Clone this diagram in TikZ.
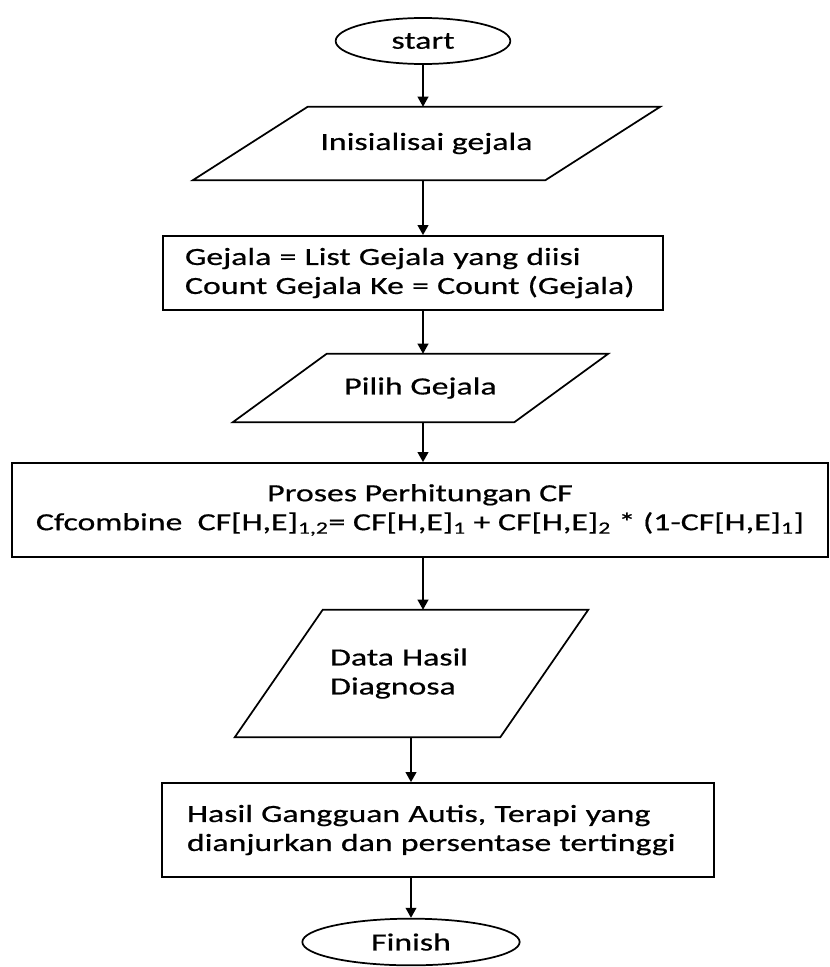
\documentclass[tikz,border=0pt]{standalone}
\usepackage{fontspec}
\setmainfont{Carlito}[FakeStretch=1.37,FakeBold=0.6]
\usetikzlibrary{shapes.geometric,arrows.meta,calc}
\begin{document}
\begin{tikzpicture}[x=0.75pt,y=-0.75pt,
  every node/.style={font=\fontsize{18.5}{21.75}\selectfont, text=black},
  shapeline/.style={draw=black, line width=1.3pt},
  term/.style={ellipse, shapeline, inner sep=0pt},
  procbox/.style={rectangle, shapeline, inner ysep=0pt},
  iobox/.style={rectangle, inner sep=0pt},
  arr/.style={draw=black, line width=1.3pt, -{Triangle[width=8pt,length=7.5pt]}}]
\useasboundingbox (0,0) rectangle (830,967);

\node[term, minimum width=131pt, minimum height=34.5pt] (start) at (423,41) {start};

\node[iobox, minimum width=264pt, minimum height=54.75pt] (ini) at (426.5,143.5) {Inisialisai gejala};
\draw[shapeline] ([xshift=-43.125pt]ini.south west) -- ([xshift=-43.125pt]ini.south east) -- ([xshift=43.125pt]ini.north east) -- ([xshift=43.125pt]ini.north west) -- cycle;

\node[procbox, minimum width=375pt, minimum height=55.5pt, inner xsep=16.5pt, text width=342pt, align=left] (gej) at (413,273) {Gejala = List Gejala yang diisi\\Count Gejala Ke = Count (Gejala)};

\node[iobox, minimum width=210.75pt, minimum height=51pt] (pil) at (420.5,388) {Pilih Gejala};
\draw[shapeline] ([xshift=-35.25pt]pil.south west) -- ([xshift=-35.25pt]pil.south east) -- ([xshift=35.25pt]pil.north east) -- ([xshift=35.25pt]pil.north west) -- cycle;

\node[procbox, minimum width=612pt, minimum height=70.5pt, inner xsep=2pt, align=center] (pro) at (420,510) {Proses Perhitungan CF\\Cfcombine\ \ CF[H,E]\textsubscript{1,2}= CF[H,E]\textsubscript{1} + CF[H,E]\textsubscript{2} * (1-CF[H,E]\textsubscript{1}]};

\node[iobox, minimum width=198.75pt, minimum height=95.25pt, text width=122pt, align=left] (dat) at (411.5,673.5) {Data Hasil\\Diagnosa};
\draw[shapeline] ([xshift=-33pt]dat.south west) -- ([xshift=-33pt]dat.south east) -- ([xshift=33pt]dat.north east) -- ([xshift=33pt]dat.north west) -- cycle;

\node[procbox, minimum width=414pt, minimum height=70.5pt, inner xsep=18.75pt, text width=376.5pt, align=left] (has) at (438,830) {Hasil Gangguan Autis, Terapi yang\\dianjurkan dan persentase tertinggi};

\node[term, minimum width=163pt, minimum height=35pt] (fin) at (411,942) {Finish};

\draw[arr] (start.south) -- (start.south |- ini.north);
\draw[arr] (start.south |- ini.south) -- (start.south |- gej.north);
\draw[arr] (start.south |- gej.south) -- (start.south |- pil.north);
\draw[arr] (start.south |- pil.south) -- (start.south |- pro.north);
\draw[arr] (start.south |- pro.south) -- (start.south |- dat.north);
\draw[arr] (fin.north |- dat.south) -- (fin.north |- has.north);
\draw[arr] (fin.north |- has.south) -- (fin.north);
\end{tikzpicture}
\end{document}
